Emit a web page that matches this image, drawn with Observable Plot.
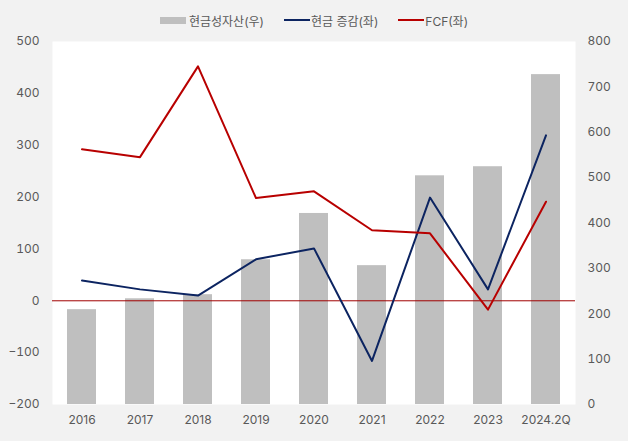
<!DOCTYPE html>
<html>
<head>
<meta charset="utf-8">
<script src="https://cdn.jsdelivr.net/npm/d3@7"></script>
<script src="https://cdn.jsdelivr.net/npm/@observablehq/plot@0.6"></script>
<style>
  html, body { margin: 0; padding: 0; background: #f2f2f2; }
  body { width: 628px; height: 441px; overflow: hidden; font-family: Inter, "Noto Sans CJK KR", sans-serif; }
  #legend { height: 32px; padding-top: 8px; box-sizing: border-box; display: flex; justify-content: center; align-items: center; gap: 20px; font-size: 12px; color: #595959; }
  .item { display: flex; align-items: center; }
  .sw { display: inline-block; width: 26px; margin-right: 3px; }
</style>
</head>
<body>
<div id="legend"></div>
<div id="chart"></div>
<script>
const years = ["2016","2017","2018","2019","2020","2021","2022","2023","2024.2Q"];
const cashAssets = [209, 233, 242, 319, 421, 306, 504, 524, 727];   // 현금성자산 (right axis)
const cashChange = [39, 22, 10, 80, 101, -116, 199, 22, 319];        // 현금 증감 (left axis)
const fcf = [292, 277, 452, 198, 211, 136, 130, -17, 191];           // FCF (left axis)
const leftTicks = [-200, -100, 0, 100, 200, 300, 400, 500];
const rightTicks = [0, 100, 200, 300, 400, 500, 600, 700, 800];
const seriesNames = ["현금성자산(우)", "현금 증감(좌)", "FCF(좌)"];
const colors = ["#bfbfbf", "#0c2461", "#b80000"];

// map right-axis values onto left-axis domain
const L0 = -200, L1 = 500, R0 = 0, R1 = 800;
const toLeft = v => L0 + (v - R0) * (L1 - L0) / (R1 - R0);
const toRight = v => R0 + (v - L0) * (R1 - R0) / (L1 - L0);

const data = years.map((y, i) => ({
  year: y,
  assets: cashAssets[i],
  assetsL: toLeft(cashAssets[i]),
  change: cashChange[i],
  fcf: fcf[i]
}));

const legend = document.getElementById("legend");
seriesNames.forEach((n, i) => {
  const it = document.createElement("div");
  it.className = "item";
  const sw = document.createElement("span");
  sw.className = "sw";
  if (i === 0) { sw.style.height = "7px"; sw.style.background = colors[0]; }
  else { sw.style.height = "2px"; sw.style.background = colors[i]; sw.style.marginRight = "1px"; }
  it.appendChild(sw);
  const t = document.createElement("span");
  t.textContent = n;
  it.appendChild(t);
  legend.appendChild(it);
});

const chart = Plot.plot({
  width: 628,
  height: 409,
  marginTop: 9,
  marginBottom: 37,
  marginLeft: 52,
  marginRight: 53,
  style: { background: "transparent", fontSize: "12px", fontFamily: "Inter, 'Noto Sans CJK KR', sans-serif", color: "#595959" },
  x: { domain: years, paddingInner: 0.5, paddingOuter: 0.25, label: null },
  y: { domain: [L0, L1], label: null },
  marks: [
    Plot.frame({ fill: "white", stroke: "none" }),
    Plot.barY(data, { x: "year", y1: L0, y2: "assetsL", fill: colors[0] }),
    Plot.ruleY([0], { stroke: "#a00000", strokeWidth: 1 }),
    Plot.lineY(data, { x: "year", y: "change", stroke: colors[1], strokeWidth: 2 }),
    Plot.lineY(data, { x: "year", y: "fcf", stroke: colors[2], strokeWidth: 2 }),
    Plot.axisX({ tickSize: 0, tickPadding: 11, label: null, fill: "#595959" }),
    Plot.axisY(leftTicks, { anchor: "left", tickSize: 0, tickPadding: 13, label: null, fill: "#595959" }),
    Plot.axisY(rightTicks.map(toLeft), { anchor: "right", tickSize: 0, tickPadding: 12, label: null, fill: "#595959",
      tickFormat: d => String(Math.round(toRight(d))) })
  ]
});
document.getElementById("chart").appendChild(chart);
</script>
</body>
</html>
